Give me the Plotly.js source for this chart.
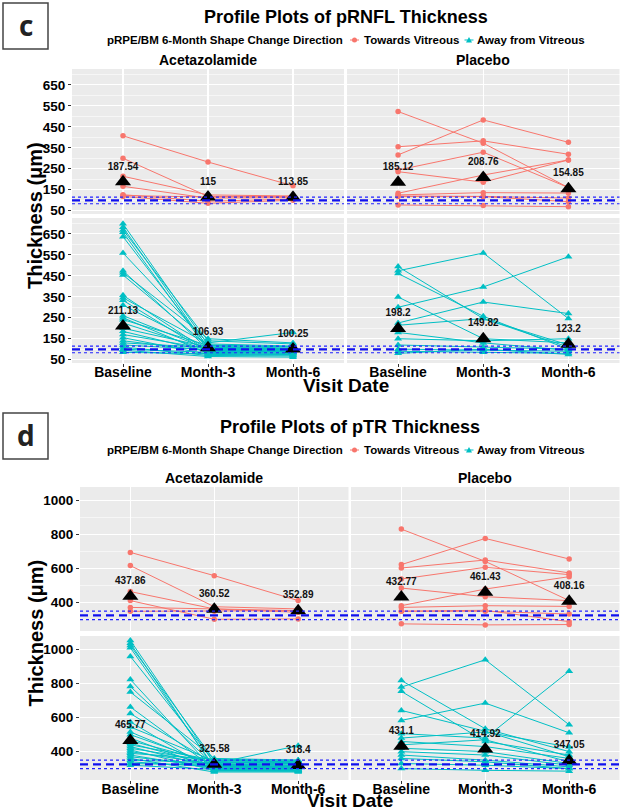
<!DOCTYPE html>
<html><head><meta charset="utf-8">
<script src="https://cdn.plot.ly/plotly-3.0.1.min.js"></script>
<style>html,body{margin:0;padding:0;background:#fff}#chart{width:622px;height:811px}</style>
</head><body><div id="chart"></div>
<script>
// ---------------- DATA ----------------
const visits = ['Baseline', 'Month-3', 'Month-6'];

// pRNFL thickness (µm), one row per subject: [Baseline, Month-3, Month-6]
const rnflAcetTowards = [[407,282,169],[300,118,115],[214,125,120],[166,110,112],[126,95,105],[118,85,100],[122,115,118]];
const rnflPlacTowards = [[523,372,160],[355,383,319],[316,483,376],[236,186,292],[133,220,292],[244,329,160],[125,136,134],[117,117,93],[120,118,110],[77,74,69]];
const rnflAcetAway = [[698,120,110],[682,105,95],[669,140,125],[658,95,90],[637,110,100],[559,130,180],[474,100,92],[465,150,130],[454,115,105],[357,90,88],[345,125,115],[333,85,80],[310,105,98],[260,100,96],[250,80,75],[241,118,112],[225,95,90],[200,110,100],[185,88,85],[170,102,95],[155,75,72],[140,92,88],[130,108,102],[120,98,92],[110,70,68],[100,85,80],[95,65,62],[85,78,75]];
const rnflPlacAway = [[494,246,120],[474,559,246],[461,257,100],[349,150,130],[300,397,541],[225,325,270],[214,246,110],[180,130,95],[150,140,150],[120,110,100],[100,95,90],[90,85,80],[80,100,75]];
const rnflAcetTowardsMean = [187.54, 115, 113.85];
const rnflPlacTowardsMean = [185.12, 208.76, 154.85];
const rnflAcetAwayMean = [211.13, 106.93, 100.25];
const rnflPlacAwayMean = [198.2, 149.82, 123.2];
const rnflNormRef = [99, 83, 115]; // mean, lower, upper

// pTR thickness (µm)
const ptrAcetTowards = [[696,559,412],[618,376,363],[465,363,353],[412,302,304],[372,363,343],[349,349,353]];
const ptrPlacTowards = [[833,643,412],[624,778,657],[604,651,575],[539,608,565],[486,435,412],[382,480,553],[372,382,378],[349,349,333],[350,355,288],[275,269,271]];
const ptrAcetAway = [[1055,330,320],[1039,300,295],[1025,350,340],[1012,310,305],[961,340,330],[825,290,290],[784,320,310],[751,360,350],[663,300,300],[624,330,435],[575,285,285],[545,345,340],[516,310,305],[500,325,320],[480,295,290],[465,335,330],[450,315,310],[440,350,345],[430,305,300],[420,340,335],[410,290,285],[400,325,320],[390,355,350],[380,300,295],[370,315,310],[360,280,280],[350,335,330],[340,310,305],[330,320,315],[320,295,290]];
const ptrPlacAway = [[819,535,400],[780,941,558],[755,460,380],[643,520,370],[584,686,511],[506,480,874],[480,516,427],[460,430,360],[440,470,340],[420,400,330],[400,380,320],[380,350,310],[360,340,300],[330,320,300],[300,290,285]];
const ptrAcetTowardsMean = [437.86, 360.52, 352.89];
const ptrPlacTowardsMean = [432.77, 461.43, 408.16];
const ptrAcetAwayMean = [465.77, 325.58, 318.4];
const ptrPlacAwayMean = [431.1, 414.92, 347.05];
const ptrNormRef = [325, 300, 350];

const rnflTicks = [50,150,250,350,450,550,650];
const rnflMinor = [100,200,300,400,500,600,700];
const ptrTicks = [400,600,800,1000];
const ptrMinor = [300,500,700,900];

// ---------------- STYLE / LAYOUT ----------------
const W = 622, H = 811;
const RED = '#F8766D', CYAN = '#00BFC4';
const FONT = 'Liberation Sans, Arial, Helvetica, sans-serif';
const px = x => x / W;
const py = y => 1 - y / H;

const traces = [];
function subjTrace(subjects, n, color, symbol) {
  const x = [], y = [];
  subjects.forEach(s => {
    visits.forEach((v, i) => { x.push(v); y.push(s[i]); });
    x.push(visits[2]); y.push(null);
  });
  return {type:'scatter', mode:'lines+markers', x, y,
    xaxis:'x'+(n===1?'':n), yaxis:'y'+(n===1?'':n),
    line:{color, width:1}, connectgaps:false,
    marker:{color, size: symbol==='circle'?5.5:7, symbol, line:{width:0}},
    hoverinfo:'skip', showlegend:false};
}
function meanTrace(means, n) {
  return {type:'scatter', mode:'markers+text', x:visits, y:means,
    text: means.map(String), textposition:'top center',
    textfont:{family:FONT, size:10, color:'#111', weight:'bold'},
    xaxis:'x'+(n===1?'':n), yaxis:'y'+(n===1?'':n),
    marker:{symbol:'triangle-up', size:14, color:'black'},
    hoverinfo:'skip', showlegend:false, cliponaxis:false};
}

const groups = [
  [rnflAcetTowards, rnflAcetTowardsMean, 1, RED, 'circle'],
  [rnflPlacTowards, rnflPlacTowardsMean, 2, RED, 'circle'],
  [rnflAcetAway, rnflAcetAwayMean, 3, CYAN, 'triangle-up'],
  [rnflPlacAway, rnflPlacAwayMean, 4, CYAN, 'triangle-up'],
  [ptrAcetTowards, ptrAcetTowardsMean, 5, RED, 'circle'],
  [ptrPlacTowards, ptrPlacTowardsMean, 6, RED, 'circle'],
  [ptrAcetAway, ptrAcetAwayMean, 7, CYAN, 'triangle-up'],
  [ptrPlacAway, ptrPlacAwayMean, 8, CYAN, 'triangle-up'],
];
groups.forEach(g => traces.push(subjTrace(g[0], g[2], g[3], g[4])));
groups.forEach(g => traces.push(meanTrace(g[1], g[2])));

// panel geometry (pixels)
const panels = {
  1: {x:[72,344], y:[69,214]},   2: {x:[347,619.5], y:[69,214]},
  3: {x:[72,344], y:[218,363]},  4: {x:[347,619.5], y:[218,363]},
  5: {x:[80,348.5], y:[487,631]}, 6: {x:[351,619.5], y:[487,631]},
  7: {x:[80,348.5], y:[636,780]}, 8: {x:[351,619.5], y:[636,780]},
};
const layout = {
  width:W, height:H, margin:{l:0,r:0,t:0,b:0},
  paper_bgcolor:'white', plot_bgcolor:'#EBEBEB', showlegend:false,
  font:{family:FONT, color:'black'},
  shapes:[], annotations:[]
};
for (let n = 1; n <= 8; n++) {
  const p = panels[n];
  const isRnfl = n <= 4;
  const isLeft = (n % 2 === 1);
  const isBottom = (n === 3 || n === 4 || n === 7 || n === 8);
  const sfx = n === 1 ? '' : n;
  layout['xaxis'+sfx] = {
    domain:[px(p.x[0]), px(p.x[1])], anchor:'y'+sfx,
    type:'category', categoryorder:'array', categoryarray:visits,
    range:[-0.6, 2.6], showgrid:true, gridcolor:'white', gridwidth:1.1,
    zeroline:false, showline:false,
    showticklabels:isBottom, ticks:isBottom?'outside':'', ticklen:3, tickcolor:'#333',
    ticklabelstandoff:-7,
    tickfont:{family:FONT, size:14, color:'black', weight:'bold'}, fixedrange:true
  };
  layout['yaxis'+sfx] = {
    domain:[py(p.y[1]), py(p.y[0])], anchor:'x'+sfx,
    range: isRnfl ? [34, 726] : [233, 1081],
    tickmode:'array', tickvals: isRnfl ? rnflTicks : ptrTicks,
    minor:{tickmode:'array', tickvals: isRnfl ? rnflMinor : ptrMinor, showgrid:true, gridcolor:'white', gridwidth:0.55, ticks:''},
    showgrid:true, gridcolor:'white', gridwidth:1.1, zeroline:false, showline:false,
    showticklabels:isLeft, ticks:isLeft?'outside':'', ticklen:3, tickcolor:'#333',
    tickfont:{family:FONT, size:13.5, color:'black', weight:'bold'}, fixedrange:true
  };
  const ref = isRnfl ? rnflNormRef : ptrNormRef;
  const xr = 'x'+sfx+' domain', yr = 'y'+sfx;
  [1,2].forEach(k => layout.shapes.push({type:'line', xref:xr, yref:yr, x0:0, x1:1, y0:ref[k], y1:ref[k],
    line:{color:'#2222FF', width:1.2, dash:'dot'}, layer:'above'}));
  layout.shapes.push({type:'line', xref:xr, yref:yr, x0:0, x1:1, y0:ref[0], y1:ref[0],
    line:{color:'#1010EE', width:2.4, dash:'8px,5px'}, layer:'above'});
}

function ann(text, x, y, size, opts) {
  layout.annotations.push(Object.assign({text, x:px(x), y:py(y), xref:'paper', yref:'paper',
    showarrow:false, xanchor:'center', yanchor:'middle',
    font:{family:FONT, size, color:'black', weight:'bold'}}, opts||{}));
}

function figureDecor(top, title, titleX, leftPanel, rightPanel, letter) {
  // letter box
  layout.shapes.push({type:'rect', xref:'paper', yref:'paper', x0:px(3), x1:px(48), y0:py(top+3), y1:py(top+49),
    line:{color:'#444', width:1.5}, fillcolor:'white', layer:'above'});
  ann(letter, 25.5, top+25, 28, {font:{family:'Open Sans, Liberation Sans, sans-serif', size:28, color:'#222', weight:'bold'}});
  // title
  ann(title, titleX, top+17, 18);
  // legend
  const ly = top + 40;
  ann('pRPE/BM 6-Month Shape Change Direction', 345, ly, 11.5, {xanchor:'right'});
  layout.shapes.push({type:'line', xref:'paper', yref:'paper', x0:px(350), x1:px(359), y0:py(ly), y1:py(ly), line:{color:RED, width:1}});
  layout.shapes.push({type:'circle', xref:'paper', yref:'paper', x0:px(352), x1:px(357), y0:py(ly+2.5), y1:py(ly-2.5), line:{width:0}, fillcolor:RED});
  ann('Towards Vitreous', 362, ly, 11.5, {xanchor:'left'});
  const kx = 469;
  layout.shapes.push({type:'line', xref:'paper', yref:'paper', x0:px(kx-4.5), x1:px(kx+4.5), y0:py(ly), y1:py(ly), line:{color:CYAN, width:1}});
  layout.shapes.push({type:'path', xref:'paper', yref:'paper',
    path:`M ${px(kx-3)} ${py(ly+2.5)} L ${px(kx+3)} ${py(ly+2.5)} L ${px(kx)} ${py(ly-3)} Z`, line:{width:0}, fillcolor:CYAN});
  ann('Away from Vitreous', 475, ly, 11.5, {xanchor:'left'});
  // strips
  ann('Acetazolamide', (leftPanel.x[0]+leftPanel.x[1])/2, leftPanel.y[0]-9, 14);
  ann('Placebo', (rightPanel.x[0]+rightPanel.x[1])/2, rightPanel.y[0]-9, 14);
}
figureDecor(0, 'Profile Plots of pRNFL Thickness', 346, panels[1], panels[2], 'c');
figureDecor(410, 'Profile Plots of pTR Thickness', 350, panels[5], panels[6], 'd');

// axis titles
ann('Thickness (\u03bcm)', 35, (69+363)/2, 20, {textangle:-90});
ann('Thickness (\u03bcm)', 35, (487+780)/2, 20, {textangle:-90});
ann('Visit Date', 346, 385, 19);
ann('Visit Date', 350, 800, 19);

Plotly.newPlot('chart', traces, layout, {staticPlot:true, displayModeBar:false});
</script>
</body></html>
